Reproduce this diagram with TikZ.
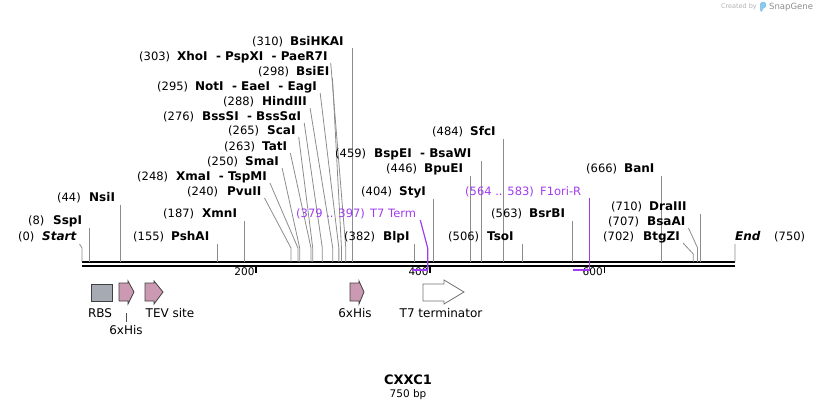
\documentclass[tikz,border=0pt]{standalone}
\usepackage{fontspec}
\setmainfont{DejaVu Sans}
\usepackage{tikz}

\definecolor{primer}{RGB}{160,60,240}
\definecolor{hisfill}{RGB}{204,153,179}
\definecolor{rbsfill}{RGB}{166,171,179}
\definecolor{sgblue}{RGB}{140,200,235}

\begin{document}
\begin{tikzpicture}[x=1pt,y=-1pt,
    num/.style={anchor=base west, inner sep=0pt, font=\fontsize{11.5}{13}\selectfont},
    enz/.style={anchor=base west, inner sep=0pt, font=\fontsize{12}{14}\selectfont\bfseries},
    cut/.style={draw=black!45, line width=0.8pt},
    bb/.style={line width=2.6pt},
    feat/.style={draw=black!75, line width=0.8pt},
    flabel/.style={font=\fontsize{12}{14}\selectfont, inner sep=0pt}]
\useasboundingbox (0,0) rectangle (818,411);

% sites on the backbone
\foreach \p in {0,8,44,155,187,240,248,250,263,265,276,288,295,298,303,310,382,404,446,459,484,506,563,666,702,707,710,750}
    \coordinate (b\p) at ({82+\p*0.8707},262);
\coordinate (fan) at (0,248);
\coordinate (fan2) at (0,254);

% backbone
\draw[bb] (b0) -- (b750);
\draw[bb] ([yshift=-4pt]b0) -- ([yshift=-4pt]b750);
\foreach \t in {200,400,600}{
    \draw[line width=1.8pt] ({82+\t*0.8707},266) -- ++(0,7) coordinate (tk\t);
    \node[anchor=east, inner sep=1.5pt, font=\fontsize{10.5}{12}\selectfont] (t\t) at ([yshift=1pt]tk\t) {\t};
}

% left part
\node[num] (n0) at (18,241) {(0)};
\node[enz, font=\fontsize{12}{14}\selectfont\bfseries\itshape] (e0) at (42,241) {Start};
\draw[cut] ([shift={(3pt,-3pt)}]e0.base east) -- (b0 |- fan) -- (b0);
\node[num] (n8) at (28,225) {(8)};
\node[enz] (e8) at (53,225) {SspI};
\draw[cut] ([yshift=-3pt]e8.base east -| b8) -- (b8);
\node[num] (n44) at (57,202) {(44)};
\node[enz] (e44) at (89,202) {NsiI};
\draw[cut] ([yshift=-3pt]e44.base east -| b44) -- (b44);
\node[num] (n155) at (133,241) {(155)};
\node[enz] (e155) at (171,241) {PshAI};
\draw[cut] ([yshift=-3pt]e155.base east -| b155) -- (b155);
\node[num] (n187) at (163,218) {(187)};
\node[enz] (e187) at (202,218) {XmnI};
\draw[cut] ([yshift=-3pt]e187.base east -| b187) -- (b187);

% the fan
\node[num] (n240) at (187,196) {(240)};
\node[enz] (e240) at (227,196) {PvuII};
\draw[cut] ([shift={(3pt,-2pt)}]e240.base east) -- (b240 |- fan) -- (b240);
\node[num] (n248) at (137,181) {(248)};
\node[enz] (e248) at (176,181) {XmaI~~- TspMI};
\draw[cut] ([shift={(3pt,-2pt)}]e248.base east) -- (b248 |- fan) -- (b248);
\node[num] (n250) at (207,166) {(250)};
\node[enz] (e250) at (245,166) {SmaI};
\draw[cut] ([shift={(3pt,-2pt)}]e250.base east) -- (b250 |- fan) -- (b250);
\node[num] (n263) at (224,151) {(263)};
\node[enz] (e263) at (262,151) {TatI};
\draw[cut] ([shift={(3pt,-2pt)}]e263.base east) -- (b263 |- fan) -- (b263);
\node[num] (n265) at (228,135) {(265)};
\node[enz] (e265) at (267,135) {ScaI};
\draw[cut] ([shift={(3pt,-2pt)}]e265.base east) -- (b265 |- fan) -- (b265);
\node[num] (n276) at (163,121) {(276)};
\node[enz] (e276) at (202,121) {BssSI~~- BssSαI};
\draw[cut] ([shift={(3pt,-2pt)}]e276.base east) -- (b276 |- fan) -- (b276);
\node[num] (n288) at (223,106) {(288)};
\node[enz] (e288) at (262,106) {HindIII};
\draw[cut] ([shift={(3pt,-2pt)}]e288.base east) -- (b288 |- fan) -- (b288);
\node[num] (n295) at (157,91) {(295)};
\node[enz] (e295) at (195,91) {NotI~~- EaeI~~- EagI};
\draw[cut] ([shift={(3pt,-2pt)}]e295.base east) -- (b295 |- fan) -- (b295);
\node[num] (n298) at (258,76) {(298)};
\node[enz] (e298) at (296,76) {BsiEI};
\draw[cut] ([shift={(3pt,-2pt)}]e298.base east) -- (b298 |- fan) -- (b298);
\node[num] (n303) at (139,61) {(303)};
\node[enz] (e303) at (177,61) {XhoI~~- PspXI~~- PaeR7I};
\draw[cut] ([shift={(3pt,-2pt)}]e303.base east) -- (b303 |- fan) -- (b303);
\node[num] (n310) at (252,46) {(310)};
\node[enz] (e310) at (290,46) {BsiHKAI};
\draw[cut] ([yshift=-2pt]e310.base east -| b310) -- (b310);

% middle
\node[num] (n382) at (344,241) {(382)};
\node[enz] (e382) at (383,241) {BlpI};
\draw[cut] ([yshift=-3pt]e382.base east -| b382) -- (b382);
\node[num] (n404) at (361,196) {(404)};
\node[enz] (e404) at (399,196) {StyI};
\draw[cut] ([yshift=-3pt]e404.base east -| b404) -- (b404);
\node[num] (n446) at (386,173) {(446)};
\node[enz] (e446) at (424,173) {BpuEI};
\draw[cut] ([yshift=-3pt]e446.base east -| b446) -- (b446);
\node[num] (n459) at (335,158) {(459)};
\node[enz] (e459) at (374,158) {BspEI~~- BsaWI};
\draw[cut] ([yshift=-3pt]e459.base east -| b459) -- (b459);
\node[num] (n484) at (432,136) {(484)};
\node[enz] (e484) at (470,136) {SfcI};
\draw[cut] ([yshift=-3pt]e484.base east -| b484) -- (b484);
\node[num] (n506) at (448,241) {(506)};
\node[enz] (e506) at (487,241) {TsoI};
\draw[cut] ([yshift=-3pt]e506.base east -| b506) -- (b506);
\node[num] (n563) at (491,218) {(563)};
\node[enz] (e563) at (529,218) {BsrBI};
\draw[cut] ([yshift=-3pt]e563.base east -| b563) -- (b563);

% right part
\node[num] (n666) at (586,173) {(666)};
\node[enz] (e666) at (624,173) {BanI};
\draw[cut] ([yshift=-3pt]e666.base east -| b666) -- (b666);
\node[num] (n710) at (611,211) {(710)};
\node[enz] (e710) at (649,211) {DraIII};
\draw[cut] ([yshift=-3pt]e710.base east -| b710) -- (b710);
\node[num] (n707) at (608,226) {(707)};
\node[enz] (e707) at (647,226) {BsaAI};
\draw[cut] ([shift={(3pt,-2pt)}]e707.base east) -- (b707 |- fan) -- (b707);
\node[num] (n702) at (603,241) {(702)};
\node[enz] (e702) at (643,241) {BtgZI};
\draw[cut] ([shift={(3pt,-2pt)}]e702.base east) -- (b702 |- fan2) -- (b702);
\node[enz, font=\fontsize{12}{14}\selectfont\bfseries\itshape] (e750) at (735,241) {End};
\node[num] (n750) at (774,241) {(750)};
\draw[cut] ([yshift=-3pt]e750.base west) -- (b750);

% primers
\coordinate (p1a) at ({82+379*0.8707},270);
\coordinate (p1b) at ({82+397*0.8707},270);
\coordinate (p2a) at ({82+564*0.8707},270);
\coordinate (p2b) at ({82+583*0.8707},270);
\node[num, text=primer] (q1) at (296,218) {(379 .. 397)};
\node[num, text=primer] (p1) at (370,218) {T7 Term};
\draw[primer, line width=1.2pt] ([shift={(4pt,-2pt)}]p1.base east) -- (p1b |- fan) -- (p1b);
\draw[primer, line width=2pt] (p1a) -- ([xshift=0.6pt]p1b);
\node[num, text=primer] (q2) at (465,196) {(564 .. 583)};
\node[num, text=primer] (p2) at (540,196) {F1ori-R};
\draw[primer, line width=1.2pt] ([yshift=-2pt]p2.base east -| p2b) -- (p2b);
\draw[primer, line width=2pt] (p2a) -- ([xshift=0.6pt]p2b);

% features
\filldraw[feat, fill=rbsfill] (91,284) rectangle (112,301);
\filldraw[feat, fill=hisfill] (119,283) -- (128,283) -- (128,281) -- (134,292) -- (128,304) -- (128,301) -- (119,301) -- cycle;
\filldraw[feat, fill=hisfill] (145,283) -- (154,283) -- (154,281) -- (163,292) -- (154,304) -- (154,301) -- (145,301) -- cycle;
\filldraw[feat, fill=hisfill] (350,283) -- (359,283) -- (359,281) -- (364,292) -- (359,304) -- (359,301) -- (350,301) -- cycle;
\filldraw[draw=black!55, line width=0.8pt, fill=white] (423,284) -- (444,284) -- (444,280) -- (464,292) -- (444,304) -- (444,301) -- (423,301) -- cycle;
\node[flabel] (l1) at (100,313) {RBS};
\node[flabel] (l2) at (126,330) {6xHis};
\draw[black!70, line width=0.8pt] ([yshift=3pt]l2.north) -- ++(0,-9);
\node[flabel] (l3) at (170,313) {TEV site};
\node[flabel] (l4) at (355,313) {6xHis};
\node[flabel] (l5) at (441,313) {T7 terminator};

% name
\node[font=\fontsize{13}{15}\selectfont\bfseries] (title) at (408,380) {CXXC1};
\node[font=\fontsize{10.5}{12}\selectfont] (len) at (408,395) {750 bp};

% SnapGene mark
\node[anchor=east, inner sep=0pt, text=black!30, font=\fontsize{6.5}{8}\selectfont] (cby) at (757,7) {Created by};
\fill[sgblue, rounded corners=1.5pt] (760,12) -- (760,2) -- (766,2) -- (766,8) -- (762.5,8) -- (762.5,12) -- cycle;
\node[anchor=west, inner sep=0pt, text=black!45, font=\fontsize{8.5}{10}\selectfont] (sg) at (769,7) {SnapGene};
\end{tikzpicture}
\end{document}
